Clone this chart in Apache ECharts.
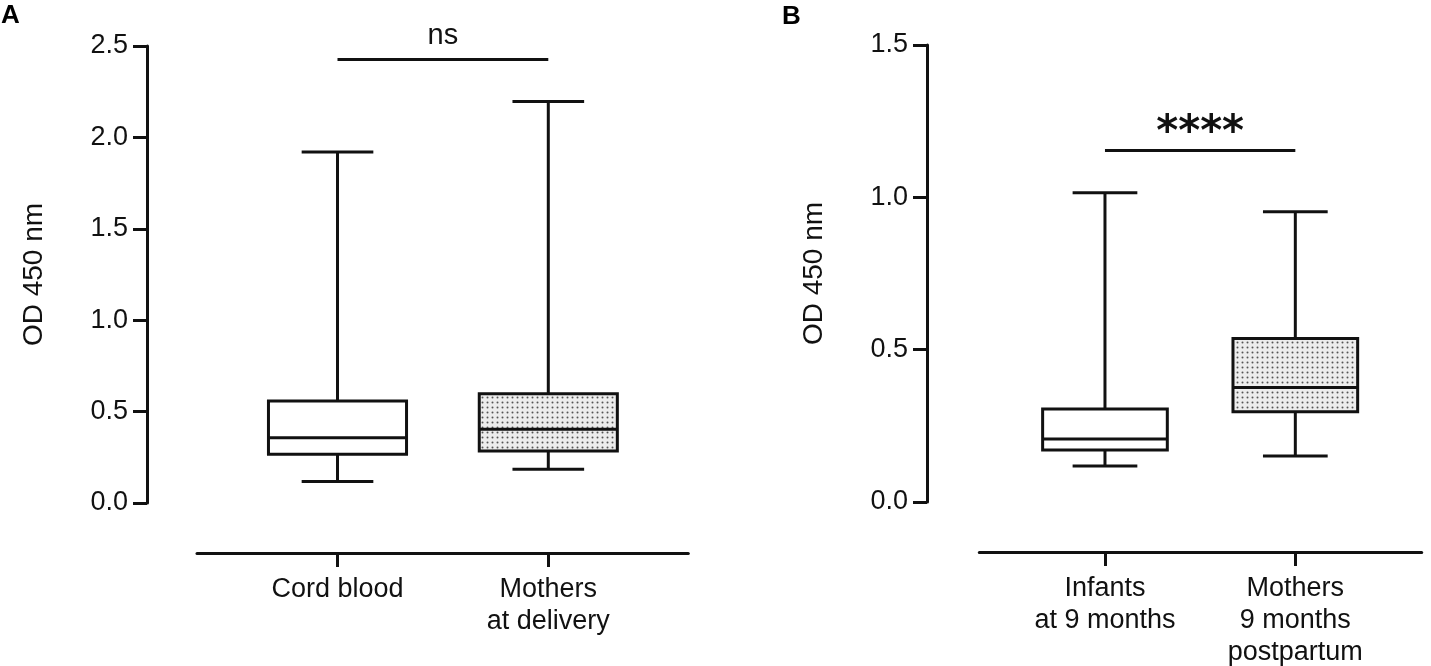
<!DOCTYPE html>
<html>
<head>
<meta charset="utf-8">
<script src="https://cdn.jsdelivr.net/npm/echarts@6/dist/echarts.min.js"></script>
<style>
  html, body { margin: 0; padding: 0; background: #fff; }
  #main { width: 1431px; height: 666px; }
</style>
</head>
<body>
<div id="main"></div>
<script>
// panel A
var catsA = ['Cord blood', 'Mothers\nat delivery'];
var minA = [0.117, 0.184];
var q1A = [0.267, 0.285];
var medA = [0.357, 0.403];
var q3A = [0.558, 0.597];
var maxA = [1.92, 2.197];
var ticksA = [0, 0.5, 1.0, 1.5, 2.0, 2.5];
var sigA = 2.426;
var sigTextA = 'ns';

// panel B
var catsB = ['Infants\nat 9 months', 'Mothers\n9 months\npostpartum'];
var minB = [0.118, 0.151];
var q1B = [0.171, 0.296];
var medB = [0.207, 0.376];
var q3B = [0.305, 0.537];
var maxB = [1.015, 0.953];
var ticksB = [0, 0.5, 1.0, 1.5];
var sigB = 1.153;
var sigTextB = '****';

var FONT = 'Liberation Sans, Arial, Helvetica, sans-serif';
var INK = '#111';

// dotted fill for the second group
function makeDots() {
    var c = document.createElement('canvas');
    c.width = 5;
    c.height = 5;
    var ctx = c.getContext('2d');
    ctx.fillStyle = '#ededed';
    ctx.fillRect(0, 0, 5, 5);
    ctx.fillStyle = '#555';
    ctx.beginPath();
    ctx.arc(2.5, 2.5, 1.0, 0, Math.PI * 2);
    ctx.fill();
    return c;
}
var dots = { image: makeDots(), repeat: 'repeat' };

function boxRows(mins, q1s, meds, q3s, maxs) {
    var rows = [];
    for (var i = 0; i < mins.length; i++) {
        rows.push([i, mins[i], q1s[i], meds[i], q3s[i], maxs[i]]);
    }
    return rows;
}

function renderBox(params, api) {
    var i = api.value(0);
    var band = api.size([1, 0])[0];
    var half = band * 0.655 / 2;
    var capHalf = band * 0.34 / 2;
    var pMin = api.coord([i, api.value(1)]);
    var pQ1 = api.coord([i, api.value(2)]);
    var pMed = api.coord([i, api.value(3)]);
    var pQ3 = api.coord([i, api.value(4)]);
    var pMax = api.coord([i, api.value(5)]);
    var x = pMed[0];
    var line = { stroke: INK, lineWidth: 3 };
    return {
        type: 'group',
        children: [
            { type: 'line', shape: { x1: x, y1: pMax[1], x2: x, y2: pQ3[1] }, style: line },
            { type: 'line', shape: { x1: x, y1: pQ1[1], x2: x, y2: pMin[1] }, style: line },
            { type: 'line', shape: { x1: x - capHalf, y1: pMax[1], x2: x + capHalf, y2: pMax[1] }, style: line },
            { type: 'line', shape: { x1: x - capHalf, y1: pMin[1], x2: x + capHalf, y2: pMin[1] }, style: line },
            {
                type: 'rect',
                shape: { x: x - half, y: pQ3[1], width: half * 2, height: pQ1[1] - pQ3[1] },
                style: { fill: i === 1 ? dots : '#fff', stroke: INK, lineWidth: 3 }
            },
            { type: 'line', shape: { x1: x - half, y1: pMed[1], x2: x + half, y2: pMed[1] }, style: line }
        ]
    };
}

function valueAxis(grid, ticks, offset, nameGap) {
    return {
        type: 'value',
        gridIndex: grid,
        min: ticks[0],
        max: ticks[ticks.length - 1],
        interval: ticks[1] - ticks[0],
        offset: offset,
        name: 'OD 450 nm',
        nameLocation: 'middle',
        nameRotate: 90,
        nameGap: nameGap,
        nameTextStyle: { fontFamily: FONT, fontSize: 28, color: INK },
        axisLine: { show: true, lineStyle: { color: INK, width: 3 } },
        axisTick: { show: true, length: 14, lineStyle: { color: INK, width: 3 } },
        axisLabel: {
            fontFamily: FONT, fontSize: 27, color: INK, margin: 19,
            formatter: function (v) { return v.toFixed(1); }
        },
        splitLine: { show: false }
    };
}

function catAxis(grid, cats, margin) {
    return {
        type: 'category',
        gridIndex: grid,
        data: cats,
        position: 'bottom',
        offset: 50,
        axisLine: { show: false, onZero: false },
        axisTick: { show: true, alignWithLabel: true, length: 14, lineStyle: { color: INK, width: 3 } },
        axisLabel: { fontFamily: FONT, fontSize: 27, lineHeight: 32, color: INK, margin: margin, interval: 0 },
        splitLine: { show: false }
    };
}

// plain baseline under each panel
function baseAxis(grid) {
    return {
        type: 'value',
        gridIndex: grid,
        position: 'bottom',
        offset: 50,
        axisLine: { show: true, onZero: false, lineStyle: { color: INK, width: 3 } },
        axisTick: { show: false },
        axisLabel: { show: false },
        splitLine: { show: false }
    };
}

function hiddenAxis(grid) {
    return { type: 'value', gridIndex: grid, show: false, min: 0, max: 1 };
}

function sigSeries(xIdx, level, text, labelStyle) {
    return {
        type: 'line',
        xAxisIndex: xIdx,
        yAxisIndex: xIdx,
        data: [],
        markLine: {
            silent: true,
            symbol: 'none',
            animation: false,
            lineStyle: { color: INK, width: 3, type: 'solid' },
            label: labelStyle,
            data: [[{ coord: [0, level] }, { coord: [1, level] }]]
        }
    };
}

var option = {
    animation: false,
    backgroundColor: '#fff',
    title: [
        { text: 'A', left: 1, top: 3, padding: 0, textStyle: { fontFamily: FONT, fontSize: 26, fontWeight: 'bold', color: '#000' } },
        { text: 'B', left: 782, top: 4, padding: 0, textStyle: { fontFamily: FONT, fontSize: 26, fontWeight: 'bold', color: '#000' } }
    ],
    grid: [
        { left: 232.1, right: 777.3, top: 46, bottom: 163, outerBoundsMode: 'none' },
        { left: 1009.8, right: 40.5, top: 45, bottom: 164, outerBoundsMode: 'none' },
        { left: 197, right: 742.7, top: 46, bottom: 163, outerBoundsMode: 'none' },
        { left: 979.3, right: 9.3, top: 45, bottom: 164, outerBoundsMode: 'none' }
    ],
    xAxis: [
        catAxis(0, catsA, 21),
        catAxis(1, catsB, 21),
        baseAxis(2),
        baseAxis(3)
    ],
    yAxis: [
        valueAxis(0, ticksA, 85.1, 99),
        valueAxis(1, ticksB, 82.8, 99),
        hiddenAxis(2),
        hiddenAxis(3)
    ],
    series: [
        {
            type: 'custom',
            xAxisIndex: 0,
            yAxisIndex: 0,
            renderItem: renderBox,
            encode: { x: 0, y: [1, 2, 3, 4, 5] },
            data: boxRows(minA, q1A, medA, q3A, maxA)
        },
        {
            type: 'custom',
            xAxisIndex: 1,
            yAxisIndex: 1,
            renderItem: renderBox,
            encode: { x: 0, y: [1, 2, 3, 4, 5] },
            data: boxRows(minB, q1B, medB, q3B, maxB)
        },
        sigSeries(0, sigA, sigTextA, {
            show: true, position: 'insideMiddleTop', distance: 9, formatter: sigTextA,
            fontFamily: FONT, fontSize: 29, color: INK
        }),
        sigSeries(1, sigB, sigTextB, {
            show: true, position: 'insideMiddleTop', distance: 2, formatter: sigTextB,
            fontFamily: 'DejaVu Sans', fontWeight: 'bold', fontSize: 42, lineHeight: 30, color: INK
        })
    ]
};

var myChart = echarts.init(document.getElementById('main'));
myChart.setOption(option);
</script>
</body>
</html>
